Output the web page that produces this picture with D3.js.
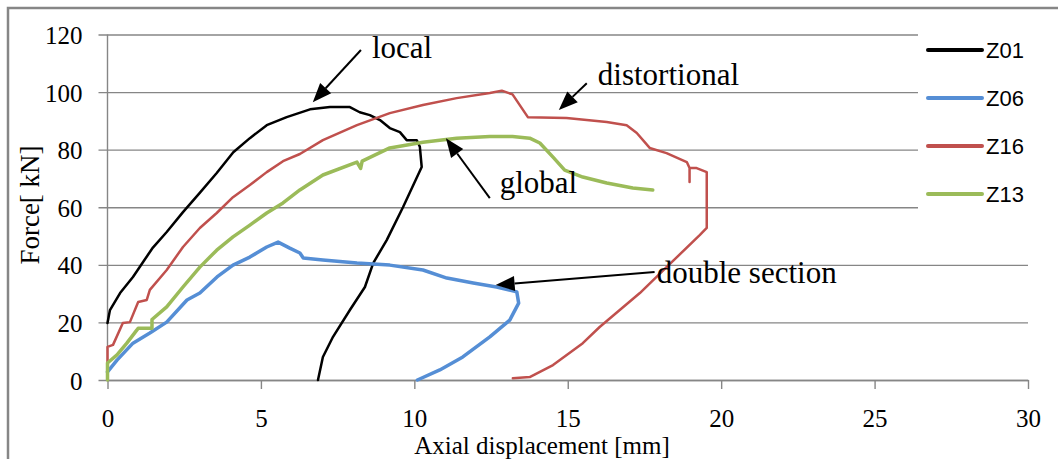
<!DOCTYPE html>
<html>
<head>
<meta charset="utf-8">
<script src="https://cdn.jsdelivr.net/npm/d3@7"></script>
<style>
body { margin: 0; background: #fff; }
</style>
</head>
<body>
<div id="chart"></div>
<script>
// series: [displacement mm, force kN]
var z01 = [[0,19.8],[0.08,24.3],[0.41,30.2],[0.83,35.8],[1.16,41],[1.48,46],[1.93,51.4],[2.46,58.3],[3.0,64.9],[3.56,71.9],[4.1,79.1],[4.64,84],[5.19,88.5],[5.84,91.3],[6.6,94],[7.25,94.8],[7.9,94.8],[8.22,93],[8.55,92],[8.88,90.3],[9.2,87.5],[9.53,86.1],[9.75,83.3],[10.08,83.3],[10.18,81],[10.24,74],[9.63,60],[9.1,48.6],[8.66,40.6],[8.39,32.3],[7.9,24.3],[7.35,15],[7.02,8],[6.86,0]]
var z06 = [[0,2.8],[0.31,6.9],[0.83,12.8],[1.38,16.3],[1.93,20.1],[2.59,27.8],[3.01,30.2],[3.57,35.8],[4.09,39.9],[4.64,42.7],[5.19,46.2],[5.56,47.9],[5.94,45.8],[6.27,44.1],[6.38,42.4],[7.02,41.7],[8.13,40.6],[9.2,39.9],[10.28,38.2],[11.06,35.4],[11.92,33.7],[12.68,32.3],[13.34,30.6],[13.4,26.7],[13.11,20.8],[12.46,15],[11.58,8],[10.83,3.5],[10.1,0]]
var z16 = [[0,5.9],[0,11.5],[0.18,12.2],[0.5,19.8],[0.73,20.1],[1.0,27.1],[1.28,27.8],[1.38,31.3],[1.93,38.2],[2.46,46.2],[3.01,52.8],[3.56,58],[4.09,63.5],[4.64,67.7],[5.19,72.2],[5.72,76],[6.27,78.5],[7.02,83.3],[8.13,88.5],[9.2,92.7],[10.28,95.5],[11.38,97.9],[12.46,99.7],[12.85,100.5],[13.2,99.2],[13.7,91.3],[14.96,91],[16.27,89.6],[16.92,88.5],[17.25,85.8],[17.67,80.6],[18.22,78.8],[18.88,75.7],[18.97,73.6],[18.97,68.8],[18.97,73.6],[19.2,73.6],[19.53,72.2],[19.53,52.8],[19.3,50.3],[18.22,39.2],[17.35,30.2],[16.04,18.4],[15.49,12.8],[14.52,5.2],[13.76,1],[13.21,0.6]]
var z13 = [[0,0],[0,5.9],[0.31,8.7],[0.63,12.8],[0.96,17.4],[1.0,18],[1.45,18],[1.45,21],[1.93,25.4],[2.46,32.3],[3.01,39.2],[3.56,45.1],[4.09,49.7],[4.64,53.8],[5.19,58],[5.72,61.5],[6.27,66],[7.02,71.2],[8.13,75.7],[8.25,73.5],[8.3,76],[9.2,80.6],[10.28,82.6],[11.38,84],[12.46,84.6],[13.2,84.6],[13.76,84],[14.09,82.3],[14.52,77.4],[14.9,72.9],[15.49,70.5],[16.27,68.4],[17.12,66.7],[17.77,66]]

var seriesNames = ["Z01", "Z06", "Z16", "Z13"]
var seriesData = [z01, z06, z16, z13]
var seriesColors = ["#000000", "#558ed5", "#c0504d", "#9bbb59"]
var seriesWidths = [2.5, 3.5, 2.5, 3.5]

var xTicks = [0, 5, 10, 15, 20, 25, 30]
var yTicks = [0, 20, 40, 60, 80, 100, 120]

// annotations: label, text start [x,y], arrow tail, arrow tip (data units)
var noteLabels = ["local", "distortional", "global", "double section"]
var noteText = [[8.62, 111.8], [15.98, 102.4], [12.78, 64.9], [17.9, 33.7]]
var noteTail = [[8.26, 114.6], [15.62, 103.1], [12.46, 63.2], [17.83, 37.5]]
var noteTip = [[6.69, 96.5], [14.71, 93.75], [11.03, 84.0], [12.65, 33.0]]

var width = 1058
var height = 459
var gridColor = "#868686"
var serif = "'Liberation Serif', 'Times New Roman', serif"

function drawChart() {
    const xScale = d3.scaleLinear([0, 30], [107.5, 1028])
    const yScale = d3.scaleLinear([0, 120], [380, 34.5])

    const svg = d3.select("#chart")
        .append("svg")
        .attr("width", width)
        .attr("height", height)
        .style("display", "block")

    // outer frame (only top and left are in the picture)
    svg.append("path")
        .attr("d", "M8,459 L8,8 L1058,8")
        .attr("fill", "none")
        .attr("stroke", gridColor)
        .attr("stroke-width", 2.5)

    // y axis + gridlines
    const yAxis = d3.axisLeft(yScale)
        .tickValues(yTicks)
        .tickSize(-(1028 - 98.5))
        .tickSizeOuter(0)
        .tickPadding(0)
    const gy = svg.append("g")
        .attr("transform", "translate(98.5,0)")
        .call(yAxis)
    gy.select(".domain").remove()
    gy.selectAll(".tick line")
        .attr("stroke", gridColor)
        .attr("stroke-width", 1.4)
    gy.selectAll(".tick text")
        .attr("x", -16)
        .attr("dy", "0.36em")
        .attr("fill", "#000")
        .style("font-family", serif)
        .style("font-size", "25px")

    svg.append("line")
        .attr("x1", xScale(0)).attr("x2", xScale(0))
        .attr("y1", yScale(120)).attr("y2", yScale(0))
        .attr("stroke", gridColor)
        .attr("stroke-width", 1.4)

    // x axis
    const xAxis = d3.axisBottom(xScale)
        .tickValues(xTicks)
        .tickSize(9)
        .tickSizeOuter(0)
    const gx = svg.append("g")
        .attr("transform", "translate(0," + yScale(0) + ")")
        .call(xAxis)
    gx.select(".domain")
        .attr("stroke", gridColor)
        .attr("stroke-width", 1.4)
    gx.selectAll(".tick line")
        .attr("stroke", gridColor)
        .attr("stroke-width", 1.4)
    gx.selectAll(".tick text")
        .attr("y", 37.5)
        .attr("dy", "0.36em")
        .attr("fill", "#000")
        .style("font-family", serif)
        .style("font-size", "25px")

    // legend background hides the gridlines behind it
    svg.append("rect")
        .attr("x", 918).attr("y", 22)
        .attr("width", 130).attr("height", 200)
        .attr("fill", "#fff")

    // series
    const line = d3.line()
        .x(d => xScale(d[0]))
        .y(d => yScale(d[1]))
        .curve(d3.curveLinear)

    svg.append("g")
        .selectAll("path")
        .data(seriesData)
        .join("path")
            .attr("d", d => line(d))
            .attr("fill", "none")
            .attr("stroke", (d, i) => seriesColors[i])
            .attr("stroke-width", (d, i) => seriesWidths[i])
            .attr("stroke-linejoin", "round")
            .attr("stroke-linecap", "round")

    // legend
    const legend = svg.append("g")
        .selectAll("g")
        .data(seriesNames)
        .join("g")
            .attr("transform", (d, i) => "translate(928," + (50 + i * 48) + ")")
    legend.append("line")
        .attr("x1", 0).attr("x2", 54)
        .attr("stroke", (d, i) => seriesColors[i])
        .attr("stroke-width", 4)
        .attr("stroke-linecap", "round")
    legend.append("text")
        .attr("x", 58)
        .attr("dy", "0.36em")
        .style("font-family", "'Liberation Sans', Arial, sans-serif")
        .style("font-size", "22px")
        .text(d => d)

    // annotations with arrows
    noteLabels.forEach((label, i) => {
        const x1 = xScale(noteTail[i][0]), y1 = yScale(noteTail[i][1])
        const x2 = xScale(noteTip[i][0]), y2 = yScale(noteTip[i][1])
        const ang = Math.atan2(y2 - y1, x2 - x1)
        const headLen = 19, headHalf = 7.5
        const bx = x2 - headLen * Math.cos(ang), by = y2 - headLen * Math.sin(ang)
        svg.append("line")
            .attr("x1", x1).attr("y1", y1)
            .attr("x2", bx).attr("y2", by)
            .attr("stroke", "#000")
            .attr("stroke-width", 2)
        svg.append("polygon")
            .attr("points", [
                [x2, y2],
                [bx + headHalf * Math.sin(ang), by - headHalf * Math.cos(ang)],
                [bx - headHalf * Math.sin(ang), by + headHalf * Math.cos(ang)]
            ].map(p => p.join(",")).join(" "))
            .attr("fill", "#000")
        svg.append("text")
            .attr("x", xScale(noteText[i][0]))
            .attr("y", yScale(noteText[i][1]))
            .style("font-family", serif)
            .style("font-size", "31px")
            .text(label)
    })

    // axis titles
    svg.append("text")
        .attr("x", 542)
        .attr("y", 454)
        .attr("text-anchor", "middle")
        .style("font-family", serif)
        .style("font-size", "25px")
        .text("Axial displacement [mm]")

    svg.append("text")
        .attr("transform", "translate(39,205) rotate(-90)")
        .attr("text-anchor", "middle")
        .style("font-family", serif)
        .style("font-size", "27px")
        .text("Force[ kN]")

    return svg.node()
}

drawChart()
</script>
</body>
</html>
